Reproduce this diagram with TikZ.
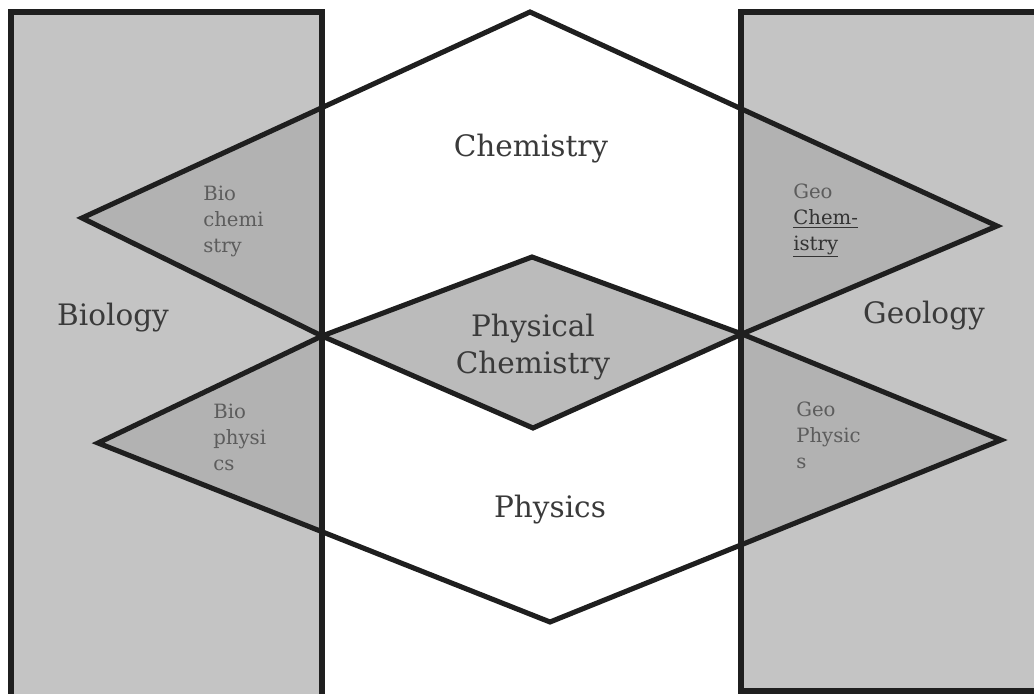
\documentclass[tikz,border=0pt]{standalone}
\usepackage{fontspec}
\setmainfont{DejaVu Serif}
\definecolor{fieldgrey}{HTML}{C4C4C4}
\definecolor{overlapgrey}{HTML}{B2B2B2}
\definecolor{centregrey}{HTML}{BBBBBB}
\definecolor{labelgrey}{HTML}{3A3A3A}
\definecolor{smallgrey}{HTML}{5C5C5C}
\tikzset{
  outline/.style={line width=3.6pt, color=black!88, line join=miter},
  biglabel/.style={font=\fontsize{21}{26}\selectfont, color=labelgrey, align=center, inner sep=0pt},
  smalllabel/.style={font=\fontsize{14}{18.3}\selectfont, color=smallgrey, align=left, inner sep=0pt, anchor=north west}
}

\begin{document}
\begin{tikzpicture}[x=0.025cm, y=-0.025cm]
\useasboundingbox (0,0) rectangle (1034,694);
\clip (0,0) rectangle (1034,694);
% the two fields
\coordinate (bioTL) at (11,12);
\coordinate (bioBR) at (322,720);
\coordinate (geoTL) at (741,12);
\coordinate (geoBR) at (1060,691);
% chemistry
\coordinate (chemTop) at (530,12);
\coordinate (chemLeft) at (82,218);
\coordinate (crossL) at (322,336);
\coordinate (pcTop) at (532,257);
\coordinate (crossR) at (742,334);
\coordinate (chemRight) at (997,226);
% physics
\coordinate (physLeft) at (98,443);
\coordinate (pcBottom) at (533,428);
\coordinate (physRight) at (1001,440);
\coordinate (physBottom) at (550,622);

\fill[fieldgrey] (bioTL) rectangle (bioBR);
\fill[fieldgrey] (geoTL) rectangle (geoBR);
\fill[white] (chemTop) -- (chemLeft) -- (crossL) -- (pcTop) -- (crossR) -- (chemRight) -- cycle;
\fill[white] (physLeft) -- (crossL) -- (pcBottom) -- (crossR) -- (physRight) -- (physBottom) -- cycle;
\begin{scope}
  \clip (bioTL) rectangle (bioBR);
  \fill[overlapgrey] (chemTop) -- (chemLeft) -- (crossL) -- (pcTop) -- (crossR) -- (chemRight) -- cycle;
  \fill[overlapgrey] (physLeft) -- (crossL) -- (pcBottom) -- (crossR) -- (physRight) -- (physBottom) -- cycle;
\end{scope}
\begin{scope}
  \clip (geoTL) rectangle (geoBR);
  \fill[overlapgrey] (chemTop) -- (chemLeft) -- (crossL) -- (pcTop) -- (crossR) -- (chemRight) -- cycle;
  \fill[overlapgrey] (physLeft) -- (crossL) -- (pcBottom) -- (crossR) -- (physRight) -- (physBottom) -- cycle;
\end{scope}
\fill[centregrey] (crossL) -- (pcTop) -- (crossR) -- (pcBottom) -- cycle;

\draw[outline] (bioTL) rectangle (bioBR);
\draw[outline] (geoTL) rectangle (geoBR);
\draw[outline] (chemTop) -- (chemLeft) -- (crossL) -- (pcTop) -- (crossR) -- (chemRight) -- cycle;
\draw[outline] (physLeft) -- (crossL) -- (pcBottom) -- (crossR) -- (physRight) -- (physBottom) -- cycle;

\node[biglabel, anchor=base] (chem) at (531,157) {Chemistry};
\node[biglabel] (physchem) at (533,347) {Physical\\Chemistry};
\node[biglabel, anchor=base] (phys) at (550,518) {Physics};
\node[biglabel, anchor=base] (bio) at (113,326) {Biology};
\node[biglabel, anchor=base] (geo) at (924,324) {Geology};
\node[smalllabel] (biochem) at (203,186) {Bio\\chemi\\stry};
\node[smalllabel] (biophys) at (213,404) {Bio\\physi\\cs};
\node[smalllabel] (geochem) at (793,184) {Geo\\\textcolor{black!80}{\underline{Chem-}}\\\textcolor{black!80}{\underline{istry}}};
\node[smalllabel] (geophys) at (796,402) {Geo\\Physic\\s};
\end{tikzpicture}
\end{document}
